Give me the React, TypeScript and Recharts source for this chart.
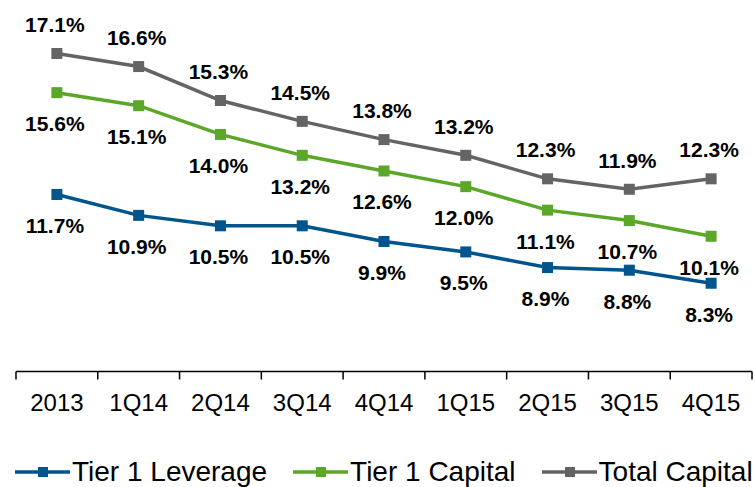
import React from 'react';
import { LineChart, Line, XAxis, YAxis, Legend, LabelList } from 'recharts';

const categories = ['2013', '1Q14', '2Q14', '3Q14', '4Q14', '1Q15', '2Q15', '3Q15', '4Q15'];
const seriesNames = ['Tier 1 Leverage', 'Tier 1 Capital', 'Total Capital'];
const tier1Leverage = [11.7, 10.9, 10.5, 10.5, 9.9, 9.5, 8.9, 8.8, 8.3];
const tier1Capital = [15.6, 15.1, 14.0, 13.2, 12.6, 12.0, 11.1, 10.7, 10.1];
const totalCapital = [17.1, 16.6, 15.3, 14.5, 13.8, 13.2, 12.3, 11.9, 12.3];

const data = categories.map((c, i) => ({
  name: c,
  lev: tier1Leverage[i],
  cap: tier1Capital[i],
  tot: totalCapital[i],
}));

const FONT = '"Liberation Sans", Arial, sans-serif';
const BLUE = '#00558C';
const GREEN = '#5BA829';
const GRAY = '#646464';

const SquareDot = (color: string) => (props: any) => {
  const { cx, cy, index } = props;
  if (cx == null || cy == null) return null;
  return <rect key={index} x={cx - 5.5} y={cy - 5.5} width={11} height={11} fill={color} />;
};

const makeLabel = (offset: number) => (props: any) => {
  const { x, y, value, index } = props;
  return (
    <text
      key={index}
      x={x - 2}
      y={y + offset}
      textAnchor="middle"
      dominantBaseline="central"
      fontFamily={FONT}
      fontWeight="bold"
      fontSize={21}
      fill="#000"
    >
      {Number(value).toFixed(1)}%
    </text>
  );
};

const CategoryTick = (props: any) => {
  const { x, y, payload, index } = props;
  const half = payload && typeof payload.offset === 'number' && payload.offset > 0 ? payload.offset : 40.9;
  const last = index === categories.length - 1;
  return (
    <g>
      <line x1={x - half} x2={x - half} y1={y} y2={y + 8} stroke="#000" strokeWidth={1.5} />
      {last && <line x1={x + half} x2={x + half} y1={y} y2={y + 8} stroke="#000" strokeWidth={1.5} />}
      <text
        x={x}
        y={y + 31}
        textAnchor="middle"
        dominantBaseline="central"
        fontFamily={FONT}
        fontSize={24}
        fill="#000"
      >
        {payload.value}
      </text>
    </g>
  );
};

const renderLegend = (props: any) => {
  const items = [...(props.payload || [])].sort(
    (a: any, b: any) => seriesNames.indexOf(a.value) - seriesNames.indexOf(b.value)
  );
  return (
    <div
      style={{
        display: 'flex',
        alignItems: 'center',
        whiteSpace: 'nowrap',
        height: 32,
        paddingLeft: 15,
        fontFamily: FONT,
        fontSize: 28,
        color: '#000',
      }}
    >
      {items.map((p: any, i: number) => (
        <div key={i} style={{ display: 'flex', alignItems: 'center', marginRight: 26, flexShrink: 0 }}>
          <svg width={55} height={12} style={{ display: 'block' }}>
            <line x1={0} x2={55} y1={6} y2={6} stroke={p.color} strokeWidth={3.5} />
            <rect x={23} y={1} width={10} height={10} fill={p.color} />
          </svg>
          <span style={{ marginLeft: 2 }}>{p.value}</span>
        </div>
      ))}
    </div>
  );
};

export default function App() {
  return (
    <div style={{ position: 'absolute', left: 0, top: 0, width: 755, height: 487, overflow: 'hidden', background: '#fff' }}>
      <LineChart width={755} height={487} data={data} margin={{ top: 30, right: 3, bottom: 0, left: 16 }}>
        <XAxis
          dataKey="name"
          scale="band"
          axisLine={{ stroke: '#000', strokeWidth: 1.5 }}
          tickLine={false}
          tickSize={0}
          tickMargin={0}
          height={83.5}
          interval={0}
          tick={<CategoryTick />}
        />
        <YAxis hide domain={[4.92, 18]} allowDataOverflow />
        <Legend
          verticalAlign="bottom"
          content={renderLegend}
          wrapperStyle={{ left: 0, top: 456, width: 755, height: 32, overflow: 'hidden' }}
        />
        <Line
          name="Tier 1 Leverage"
          dataKey="lev"
          stroke={BLUE}
          strokeWidth={3.5}
          dot={SquareDot(BLUE)}
          activeDot={false}
          isAnimationActive={false}
        >
          <LabelList dataKey="lev" content={makeLabel(31)} />
        </Line>
        <Line
          name="Tier 1 Capital"
          dataKey="cap"
          stroke={GREEN}
          strokeWidth={3.5}
          dot={SquareDot(GREEN)}
          activeDot={false}
          isAnimationActive={false}
        >
          <LabelList dataKey="cap" content={makeLabel(31)} />
        </Line>
        <Line
          name="Total Capital"
          dataKey="tot"
          stroke={GRAY}
          strokeWidth={3.5}
          dot={SquareDot(GRAY)}
          activeDot={false}
          isAnimationActive={false}
        >
          <LabelList dataKey="tot" content={makeLabel(-29)} />
        </Line>
      </LineChart>
    </div>
  );
}
